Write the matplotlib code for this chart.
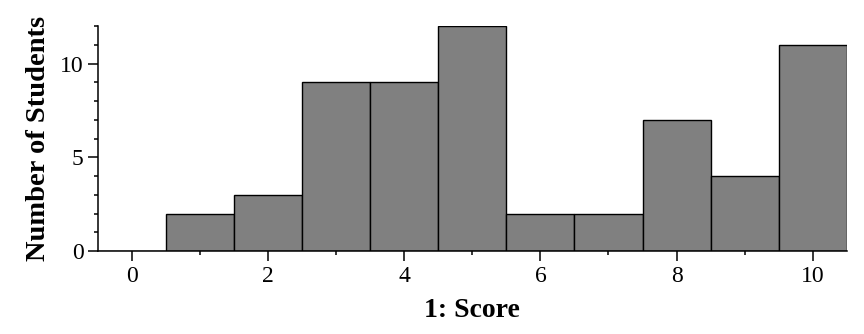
import matplotlib
matplotlib.use("Agg")
import matplotlib.pyplot as plt
from matplotlib.ticker import MultipleLocator

scores = [0, 1, 2, 3, 4, 5, 6, 7, 8, 9, 10]
counts = [0, 2, 3, 9, 9, 12, 2, 2, 7, 4, 11]

plt.rcParams['font.family'] = ['Liberation Serif', 'DejaVu Serif']

fig = plt.figure(figsize=(8.64, 3.34), dpi=100)
ax = fig.add_axes([0.1134, 0.2485, 0.8666, 0.6735])
ax.bar(scores, counts, width=1.0, color='#808080', edgecolor='black', linewidth=1.0)
ax.set_xlim(-0.5, 10.5)
ax.set_ylim(0, 12)
ax.spines['top'].set_visible(False)
ax.spines['right'].set_visible(False)
for s in ('left', 'bottom'):
    ax.spines[s].set_linewidth(1.1)
ax.xaxis.set_major_locator(MultipleLocator(2))
ax.xaxis.set_minor_locator(MultipleLocator(1))
ax.yaxis.set_major_locator(MultipleLocator(5))
ax.yaxis.set_minor_locator(MultipleLocator(1))
ax.tick_params(which='major', length=7.5, width=1.1, labelsize=17, direction='out', pad=3)
ax.tick_params(which='minor', length=3.2, width=1.1, direction='out')
ax.set_xlabel('1: Score', fontsize=20, fontweight='bold', labelpad=8)
ax.set_ylabel('Number of Students', fontsize=20.5, fontweight='bold', labelpad=6)
fig.savefig('out.png', dpi=100)
